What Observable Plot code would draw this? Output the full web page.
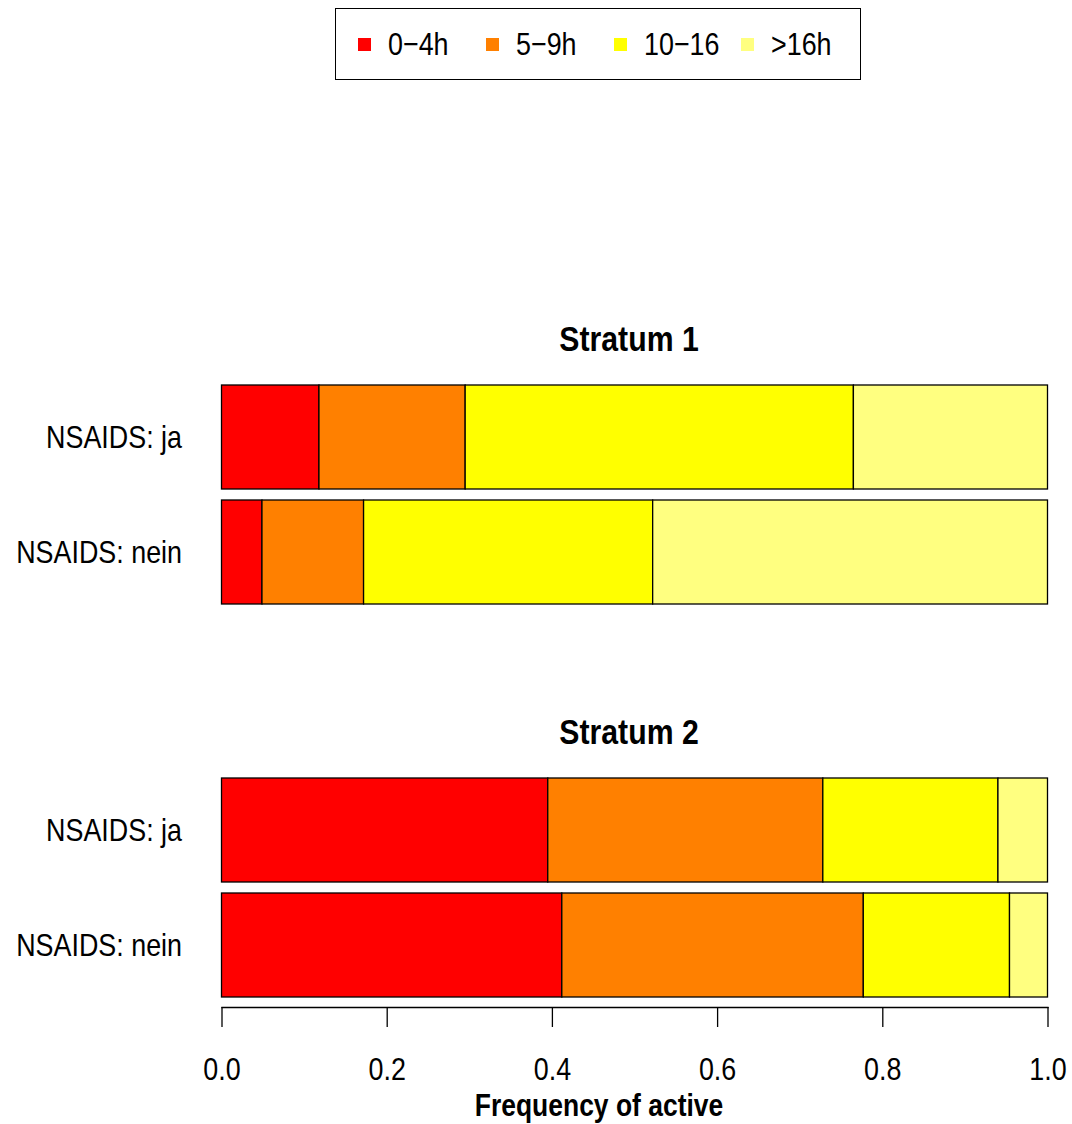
<!DOCTYPE html>
<html>
<head>
<meta charset="utf-8">
<script src="https://cdn.jsdelivr.net/npm/d3@7"></script>
<script src="https://cdn.jsdelivr.net/npm/@observablehq/plot@0.6"></script>
<style>
  html, body { margin: 0; padding: 0; background: #fff; }
  body { width: 1072px; font-family: "Liberation Sans", Arial, sans-serif; }
  #legend { position: relative; width: 1072px; height: 90px; }
  #legend .box { position: absolute; left: 335px; top: 8px; width: 524px; height: 70px; border: 1.5px solid #000; box-sizing: content-box; }
  #legend .item { position: absolute; top: 0; height: 70px; display: flex; align-items: center; font-size: 32px; color: #000; white-space: nowrap; }
  #legend .sw { width: 13px; height: 13px; margin-right: 17px; flex: none; }
  #legend .lab { display: inline-block; transform: scaleX(0.84); transform-origin: left center; }
</style>
</head>
<body>
<div id="legend"><div class="box"></div></div>
<div id="chart"></div>
<script>
// ---- data ----
const strata = ["Stratum 1", "Stratum 2"];
const groups = ["NSAIDS: ja", "NSAIDS: nein"];
const categories = ["0−4h", "5−9h", "10−16", ">16h"];
const colors = ["#FF0000", "#FF8000", "#FFFF00", "#FFFF80"];
// order of bars: Stratum 1 ja, Stratum 1 nein, Stratum 2 ja, Stratum 2 nein
const barStratum = ["Stratum 1", "Stratum 1", "Stratum 2", "Stratum 2"];
const barGroup = ["NSAIDS: ja", "NSAIDS: nein", "NSAIDS: ja", "NSAIDS: nein"];
const share_0_4h  = [0.118, 0.049, 0.395, 0.412];
const share_5_9h  = [0.177, 0.123, 0.333, 0.365];
const share_10_16 = [0.470, 0.350, 0.212, 0.177];
const share_gt16h = [0.235, 0.478, 0.060, 0.046];
const xTicks = [0, 0.2, 0.4, 0.6, 0.8, 1.0];
const xTitle = "Frequency of active";

const series = [share_0_4h, share_5_9h, share_10_16, share_gt16h];
const rows = [];
barStratum.forEach((s, i) => {
  categories.forEach((c, k) => {
    rows.push({stratum: s, group: barGroup[i], category: c, value: series[k][i]});
  });
});

// ---- legend (HTML, above the SVG) ----
const legendLeft = [22, 150, 278, 405];
const box = document.querySelector("#legend .box");
categories.forEach((c, k) => {
  const it = document.createElement("div");
  it.className = "item";
  it.style.left = legendLeft[k] + "px";
  const sw = document.createElement("span");
  sw.className = "sw";
  sw.style.background = colors[k];
  const tx = document.createElement("span");
  tx.className = "lab";
  tx.textContent = c;
  it.appendChild(sw); it.appendChild(tx);
  box.appendChild(it);
});

const FONT = '"Liberation Sans", Arial, sans-serif';

const chart = Plot.plot({
  width: 1072,
  height: 1034,
  marginTop: 294,
  marginBottom: 127,
  marginLeft: 221.5,
  marginRight: 24.5,
  style: {fontFamily: FONT, background: "#fff", color: "#000", overflow: "visible"},
  x: {domain: [0, 1]},
  y: {domain: groups, paddingInner: 0.096, paddingOuter: 0},
  fy: {domain: strata, paddingInner: 0.444, paddingOuter: 0, axis: null},
  color: {domain: categories, range: colors},
  marks: [
    Plot.barX(rows, Plot.stackX({
      x: "value", y: "group", fy: "stratum", fill: "category",
      stroke: "#000", strokeWidth: 1.3
    })),
    Plot.axisY({tickSize: 0, tickPadding: 40, fontSize: 32, label: null, fill: "#000"}),
    Plot.axisX({
      facetAnchor: "bottom", anchor: "bottom", ticks: xTicks, tickFormat: d3.format(".1f"),
      tickSize: 20, tickPadding: 30, fontSize: 32, label: null, dy: 10, strokeWidth: 1.3
    }),
    Plot.frame({anchor: "bottom", facetAnchor: "bottom", dy: 10, strokeWidth: 1.3}),
    Plot.text(strata, {
      fy: d => d, text: d => d, frameAnchor: "top", lineAnchor: "middle", dy: -46, dx: -6,
      fontSize: 36, fontWeight: "bold", fill: "#000"
    }),
    Plot.text([xTitle], {
      facetAnchor: "bottom", frameAnchor: "bottom", lineAnchor: "middle", text: d => d, dy: 108, dx: -36,
      fontSize: 31.5, fontWeight: "bold", fill: "#000"
    })
  ]
});

document.getElementById("chart").appendChild(chart);

// condense all texts horizontally around their anchor point (narrow Helvetica look)
const SX = 0.84;
const NS = "http://www.w3.org/2000/svg";
Array.from(chart.querySelectorAll("text")).forEach(t => {
  const g = document.createElementNS(NS, "g");
  t.parentNode.insertBefore(g, t);
  g.appendChild(t);
  const bb = g.getBBox();
  const anchor = getComputedStyle(t).textAnchor;
  const ax = anchor === "end" ? bb.x + bb.width : anchor === "middle" ? bb.x + bb.width / 2 : bb.x;
  g.setAttribute("transform", `translate(${ax},0) scale(${SX},1) translate(${-ax},0)`);
});
</script>
</body>
</html>
